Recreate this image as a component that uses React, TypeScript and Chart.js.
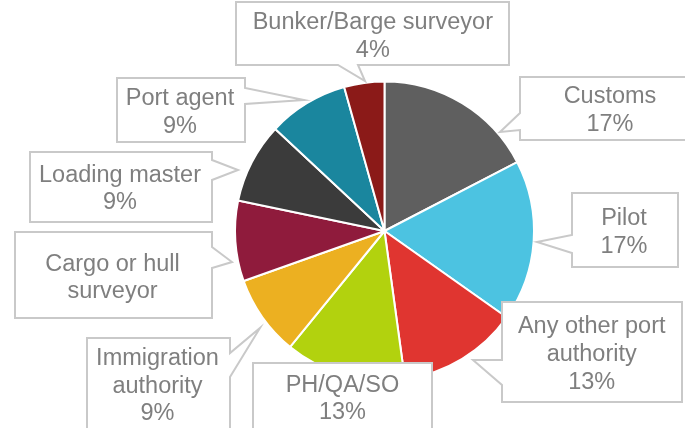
import React, { useEffect, useRef } from 'react';
import { Chart, registerables } from 'chart.js';

Chart.register(...registerables);

// ---- data ----
const categories = [
  'Customs',
  'Pilot',
  'Any other port authority',
  'PH/QA/SO',
  'Immigration authority',
  'Cargo or hull surveyor',
  'Loading master',
  'Port agent',
  'Bunker/Barge surveyor',
];
const responses = [4, 4, 3, 3, 2, 2, 2, 2, 1];
const labelText = [
  'Customs',
  'Pilot',
  'Any other port\nauthority',
  'PH/QA/SO',
  'Immigration\nauthority',
  'Cargo or hull\nsurveyor',
  'Loading master',
  'Port agent',
  'Bunker/Barge surveyor',
];
const showPercent = [true, true, true, true, true, false, true, true, true];
const sliceColors = [
  '#5f5f5f',
  '#4cc3e1',
  '#e03530',
  '#b2d20e',
  '#ecb021',
  '#8f1b3c',
  '#3b3b3b',
  '#1a869e',
  '#8b1a18',
];

// ---- callout layout (box, wedge side/base/tip, text anchor) ----
type Callout = {
  box: [number, number, number, number];
  side: 'left' | 'right' | 'bottom' | 'none';
  base: [number, number];
  tip: [number, number];
  cx: number;
  baseline: number;
};
const callouts: Callout[] = [
  { box: [520, 77, 702, 140], side: 'left', base: [113, 130], tip: [500, 132], cx: 610, baseline: 103.3 },
  { box: [572, 193, 678, 267], side: 'left', base: [235, 253], tip: [537, 242], cx: 624, baseline: 225 },
  { box: [502, 302, 682, 402], side: 'left', base: [360, 385], tip: [473, 360], cx: 591.7, baseline: 333.3 },
  { box: [253, 363, 432, 440], side: 'none', base: [0, 0], tip: [0, 0], cx: 342.5, baseline: 391.7 },
  { box: [87, 338, 230, 440], side: 'right', base: [353, 377], tip: [260, 328], cx: 157.5, baseline: 365 },
  { box: [15, 232, 212, 318], side: 'right', base: [247, 268], tip: [232, 262], cx: 112.5, baseline: 270.7 },
  { box: [30, 152, 212, 222], side: 'right', base: [160, 180], tip: [238, 170], cx: 120, baseline: 181.7 },
  { box: [117, 78, 245, 142], side: 'right', base: [88, 104], tip: [304, 100], cx: 180, baseline: 105 },
  { box: [236, 2, 509, 65], side: 'bottom', base: [338, 358], tip: [365, 81], cx: 372.8, baseline: 29.3 },
];

const FONT = '23.5px "Liberation Sans", Arial, sans-serif';
const LINE_H = 27.6;

const calloutPlugin = {
  id: 'callouts',
  afterDraw(chart: any) {
    const ctx: CanvasRenderingContext2D = chart.ctx;
    const total = responses.reduce((a, b) => a + b, 0);
    ctx.save();
    callouts.forEach((c, i) => {
      const [x1, y1, x2, y2] = c.box;
      ctx.beginPath();
      ctx.moveTo(x1, y1);
      ctx.lineTo(x2, y1);
      if (c.side === 'right') {
        ctx.lineTo(x2, c.base[0]);
        ctx.lineTo(c.tip[0], c.tip[1]);
        ctx.lineTo(x2, c.base[1]);
      }
      ctx.lineTo(x2, y2);
      if (c.side === 'bottom') {
        ctx.lineTo(c.base[1], y2);
        ctx.lineTo(c.tip[0], c.tip[1]);
        ctx.lineTo(c.base[0], y2);
      }
      ctx.lineTo(x1, y2);
      if (c.side === 'left') {
        ctx.lineTo(x1, c.base[1]);
        ctx.lineTo(c.tip[0], c.tip[1]);
        ctx.lineTo(x1, c.base[0]);
      }
      ctx.closePath();
      ctx.fillStyle = '#ffffff';
      ctx.fill();
      ctx.lineWidth = 2;
      ctx.strokeStyle = '#c9c9c9';
      ctx.lineJoin = 'miter';
      ctx.stroke();

      const lines = labelText[i].split('\n');
      if (showPercent[i]) {
        lines.push(Math.round((responses[i] / total) * 100) + '%');
      }
      ctx.font = FONT;
      ctx.fillStyle = '#7f7f7f';
      ctx.textAlign = 'center';
      ctx.textBaseline = 'alphabetic';
      lines.forEach((ln, k) => {
        ctx.fillText(ln, c.cx, c.baseline + k * LINE_H);
      });
    });
    ctx.restore();
  },
};

export default function App() {
  const ref = useRef<HTMLCanvasElement | null>(null);
  useEffect(() => {
    document.body.style.margin = '0';
    const canvas = ref.current!;
    const chart = new Chart(canvas, {
      type: 'pie',
      data: {
        labels: categories,
        datasets: [
          {
            data: responses,
            backgroundColor: sliceColors,
            borderColor: '#ffffff',
            borderWidth: 2,
          },
        ],
      },
      options: {
        responsive: false,
        animation: false,
        layout: { padding: { left: 234, right: 150, top: 80, bottom: 46 } },
        plugins: {
          legend: { display: false },
          tooltip: { enabled: false },
          title: { display: false },
        },
      },
      plugins: [calloutPlugin],
    });
    return () => chart.destroy();
  }, []);
  return (
    <div style={{ position: 'absolute', left: 0, top: 0, width: 685, height: 428, background: '#fff' }}>
      <canvas ref={ref} width={685} height={428} style={{ width: 685, height: 428 }} />
    </div>
  );
}
